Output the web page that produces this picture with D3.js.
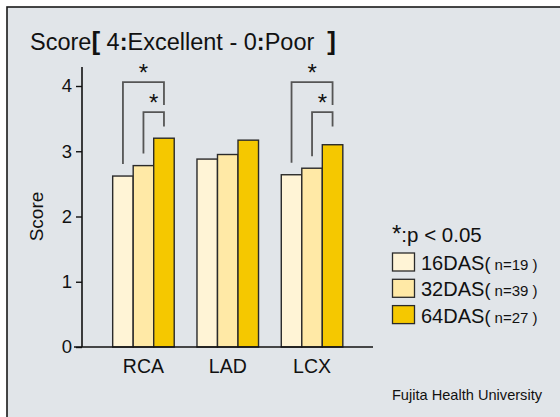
<!DOCTYPE html>
<html>
<head>
<meta charset="utf-8">
<script src="https://cdn.jsdelivr.net/npm/d3@7"></script>
<style>
  html, body { margin: 0; padding: 0; background: #fff; }
  svg { display: block; }
  text { font-family: "Liberation Sans", Arial, sans-serif; fill: #111; }
</style>
</head>
<body>
<svg id="chart" width="560" height="417"></svg>
<script>
// Mean image quality scores per coronary segment
const categories = ["RCA", "LAD", "LCX"];
const seriesNames = ["16DAS", "32DAS", "64DAS"];
const seriesN = [19, 39, 27];
const scores16 = [2.62, 2.88, 2.64];
const scores32 = [2.78, 2.95, 2.74];
const scores64 = [3.20, 3.17, 3.10];
const yTicks = [0, 1, 2, 3, 4];
// significant pairs (index into seriesNames) within each segment
const sigPairs = { RCA: [[0, 2], [1, 2]], LCX: [[0, 2], [1, 2]] };

const seriesValues = [scores16, scores32, scores64];
const colors = ["#FFF4D6", "#FFE9A6", "#F5C800"];

const svg = d3.select("#chart");

// panel background and frame
svg.append("rect").attr("x", 7).attr("y", 7).attr("width", 560).attr("height", 417)
  .attr("fill", "#E1E5E9").attr("stroke", "#1a1a1a").attr("stroke-width", 1.6);

const y = d3.scaleLinear().domain([0, 4]).range([347, 86]);
const x0 = d3.scaleBand().domain(categories).range([101.3, 354.2])
  .paddingInner(0.27).paddingOuter(0.135);
const x1 = d3.scaleBand().domain(seriesNames).range([0, x0.bandwidth()]);

// title
const title = svg.append("text").attr("x", 30).attr("y", 50).style("font-size", "23.5px");
title.append("tspan").text("Score");
title.append("tspan").text("[").style("font-weight", "bold").style("font-size", "26px");
title.append("tspan").text(" 4");
title.append("tspan").text(":").style("font-weight", "bold");
title.append("tspan").text("Excellent - 0");
title.append("tspan").text(":").style("font-weight", "bold");
title.append("tspan").text("Poor\u00a0\u00a0");
title.append("tspan").text("]").style("font-weight", "bold").style("font-size", "26px");

// bars
const groups = svg.append("g").selectAll("g").data(categories).join("g")
  .attr("transform", d => `translate(${x0(d)},0)`);
groups.selectAll("rect")
  .data((c, ci) => seriesNames.map((s, si) => ({ s, si, v: seriesValues[si][ci] })))
  .join("rect")
  .attr("x", d => x1(d.s))
  .attr("y", d => y(d.v))
  .attr("width", x1.bandwidth())
  .attr("height", d => y(0) - y(d.v))
  .attr("fill", d => colors[d.si])
  .attr("stroke", "#2a2a2a").attr("stroke-width", 1.4);

// y axis
const yAxis = d3.axisLeft(y).tickValues(yTicks).tickSize(6).tickPadding(4).tickFormat(d3.format("d"));
const ga = svg.append("g").attr("transform", "translate(82,0)").call(yAxis);
ga.select(".domain").remove();
ga.selectAll(".tick line").attr("stroke", "#111").attr("stroke-width", 1.4);
ga.selectAll(".tick text").style("font-size", "18.5px").style("font-family", "Liberation Sans, Arial, sans-serif").attr("fill", "#111");
svg.append("line").attr("x1", 82).attr("x2", 82).attr("y1", y(0)).attr("y2", y(4.29))
  .attr("stroke", "#111").attr("stroke-width", 1.6);
// baseline
svg.append("line").attr("x1", 74).attr("x2", 373).attr("y1", y(0)).attr("y2", y(0))
  .attr("stroke", "#111").attr("stroke-width", 1.6);

// y axis title
svg.append("text").attr("transform", `translate(43,${y(2)}) rotate(-90)`)
  .attr("text-anchor", "middle").style("font-size", "19px").text("Score");

// x labels
svg.append("g").selectAll("text").data(categories).join("text")
  .attr("x", d => x0(d) + x0.bandwidth() / 2).attr("y", 373)
  .attr("text-anchor", "middle").style("font-size", "19.5px").text(d => d);

// significance brackets
const brackets = svg.append("g");
Object.entries(sigPairs).forEach(([cat, pairs]) => {
  pairs.forEach(([a, b], k) => {
    const xa = x0(cat) + x1(seriesNames[a]) + x1.bandwidth() / 2;
    const xb = x0(cat) + x1(seriesNames[b]) + x1.bandwidth() / 2;
    const top = k === 0 ? y(4.06) : y(3.6);
    const ya = y(seriesValues[a][categories.indexOf(cat)]) - 12;
    const yb = k === 0 ? y(3.71) : y(3.38);
    brackets.append("path")
      .attr("d", `M${xa},${ya}V${top}H${xb}V${yb}`)
      .attr("fill", "none").attr("stroke", "#555").attr("stroke-width", 1.8);
    brackets.append("text").attr("x", (xa + xb) / 2).attr("y", top - 1)
      .attr("text-anchor", "middle").style("font-size", "24px").text("*");
  });
});

// legend
const leg = svg.append("g").attr("transform", "translate(392,0)");
const sig = leg.append("text").attr("x", 0).attr("y", 242).style("font-size", "20.5px");
sig.append("tspan").text("*").style("font-size", "24px");
sig.append("tspan").text(":p < 0.05");
seriesNames.forEach((s, i) => {
  const yy = 253 + i * 26.3;
  leg.append("rect").attr("x", 0.5).attr("y", yy).attr("width", 22).attr("height", 18)
    .attr("fill", colors[i]).attr("stroke", "#2a2a2a").attr("stroke-width", 1.3);
  const t = leg.append("text").attr("x", 29).attr("y", yy + 17).style("font-size", "20px");
  t.append("tspan").text(s);
  t.append("tspan").text("(").style("font-size", "18px");
  t.append("tspan").text(` n=${seriesN[i]} )`).style("font-size", "15px");
});

// footer
svg.append("text").attr("x", 542).attr("y", 400).attr("text-anchor", "end")
  .style("font-size", "14.6px").text("Fujita Health University");
</script>
</body>
</html>
